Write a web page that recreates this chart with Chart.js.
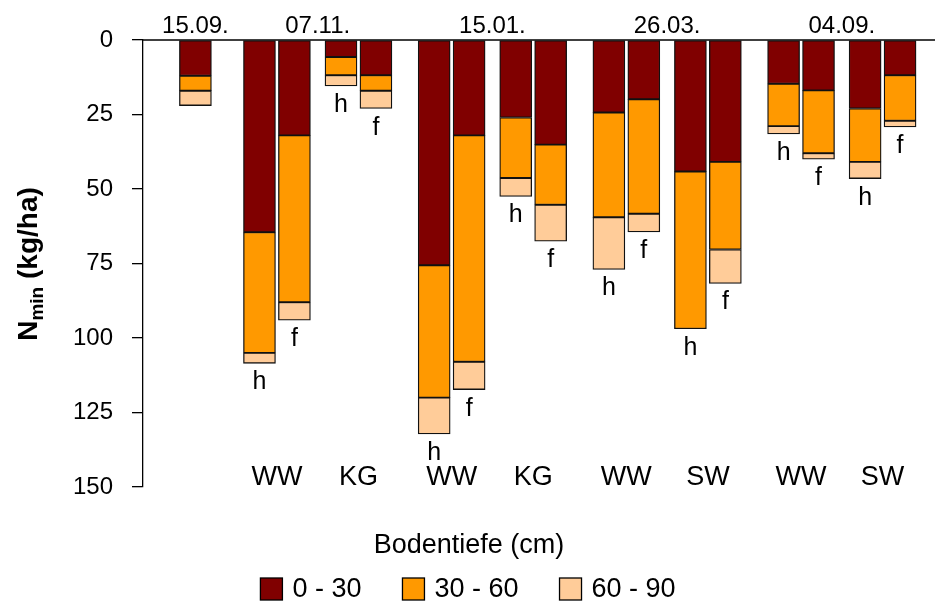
<!DOCTYPE html>
<html>
<head>
<meta charset="utf-8">
<script src="https://cdn.jsdelivr.net/npm/chart.js@4"></script>
<style>
  html, body { margin: 0; padding: 0; background: #fff; }
  canvas { display: block; }
</style>
</head>
<body>
<canvas id="nminChart" width="935" height="601"></canvas>
<script>
const dates = ["15.09.", "07.11.", "15.01.", "26.03.", "04.09."];
const barDate = [0, 1, 1, 1, 1, 2, 2, 2, 2, 3, 3, 3, 3, 4, 4, 4, 4];
const barCrop = ["", "WW", "WW", "KG", "KG", "WW", "WW", "KG", "KG", "WW", "WW", "SW", "SW", "WW", "WW", "SW", "SW"];
const barSite = ["", "h", "f", "h", "f", "h", "f", "h", "f", "h", "f", "h", "f", "h", "f", "h", "f"];
const depthLabels = ["0 - 30", "30 - 60", "60 - 90"];

// N_min per layer (kg/ha)
const n0_30 = [12, 64.5, 32, 5.7, 11.8, 75.6, 32, 26, 35.1, 24.3, 19.9, 44.1, 40.9, 14.7, 16.9, 23, 11.8];
const n30_60 = [5, 40.5, 56, 6.1, 5.2, 44.4, 76, 20.3, 20.2, 35.2, 38.4, 52.8, 29.4, 14.2, 21.1, 17.9, 15.3];
const n60_90 = [5, 3.5, 6, 3.6, 6, 12.2, 9.3, 6.2, 12.2, 17.5, 6.1, 0, 11.4, 2.6, 2, 5.6, 2.1];
const yTicks = [0, 25, 50, 75, 100, 125, 150];

const FONT = "'Liberation Sans', Arial, sans-serif";
const colors = ["#800000", "#ff9900", "#ffcc99"];

// horizontal layout in slot units
const FIRST_SLOT = 9, GAP_PAIR = 6, GAP_CROP = 8, GAP_DATE = 10, GAP_SINGLE = 11, SLOT_SPAN = 136;

function slotPositions() {
  const pos = [];
  barDate.forEach((d, i) => {
    if (i === 0) { pos.push(FIRST_SLOT); return; }
    let gap = GAP_PAIR;
    if (d !== barDate[i - 1]) gap = barCrop[i - 1] ? GAP_DATE : GAP_SINGLE;
    else if (barCrop[i] !== barCrop[i - 1]) gap = GAP_CROP;
    pos.push(pos[i - 1] + gap);
  });
  return pos;
}

const slots = slotPositions();
const layers = [n0_30, n30_60, n60_90];

function mean(arr) {
  return arr.reduce((a, b) => a + b, 0) / arr.length;
}

const labelPlugin = {
  id: "labelPlugin",
  beforeDatasetsDraw(chart) {
    const { ctx, chartArea, scales } = chart;
    const y0 = scales.y.getPixelForValue(0);
    ctx.save();
    ctx.strokeStyle = "#000";
    ctx.lineWidth = 1.3;
    ctx.beginPath();
    ctx.moveTo(chartArea.left, y0);
    ctx.lineTo(chartArea.right, y0);
    ctx.stroke();
    ctx.restore();
  },
  afterDraw(chart) {
    const { ctx, scales } = chart;
    const xs = scales.x, ys = scales.y;
    ctx.save();
    ctx.fillStyle = "#000";
    ctx.textAlign = "center";
    ctx.textBaseline = "alphabetic";

    // h / f under each bar
    ctx.font = `25px ${FONT}`;
    slots.forEach((s, i) => {
      if (!barSite[i]) return;
      const total = n0_30[i] + n30_60[i] + n60_90[i];
      ctx.fillText(barSite[i], xs.getPixelForValue(s), ys.getPixelForValue(total) + 26);
    });

    // dates above groups
    ctx.font = `24px ${FONT}`;
    dates.forEach((d, di) => {
      const xsOf = slots.filter((s, i) => barDate[i] === di).map(s => xs.getPixelForValue(s));
      ctx.fillText(d, mean(xsOf), 33);
    });

    // crops under pairs
    ctx.font = `27px ${FONT}`;
    let i = 0;
    while (i < slots.length) {
      if (!barCrop[i]) { i++; continue; }
      let j = i;
      while (j + 1 < slots.length && barDate[j + 1] === barDate[i] && barCrop[j + 1] === barCrop[i]) j++;
      const cx = (xs.getPixelForValue(slots[i]) + xs.getPixelForValue(slots[j])) / 2;
      ctx.fillText(barCrop[i], cx, 485);
      i = j + 1;
    }

    // x title
    ctx.fillText("Bodentiefe (cm)", 469, 553);

    // legend
    ctx.font = `27px ${FONT}`;
    ctx.textAlign = "left";
    const box = 22, boxGap = 10, itemGap = 41;
    const widths = depthLabels.map(t => ctx.measureText(t).width);
    const total = widths.reduce((a, w) => a + box + boxGap + w, 0) + itemGap * (depthLabels.length - 1);
    let lx = 468 - total / 2;
    depthLabels.forEach((t, k) => {
      ctx.fillStyle = colors[k];
      ctx.fillRect(lx, 578, box, box);
      ctx.strokeStyle = "#000";
      ctx.lineWidth = 1.3;
      ctx.strokeRect(lx, 578, box, box);
      ctx.fillStyle = "#000";
      ctx.fillText(t, lx + box + boxGap, 597);
      lx += box + boxGap + widths[k] + itemGap;
    });

    // y title with subscript
    ctx.translate(37, 264);
    ctx.rotate(-Math.PI / 2);
    const big = `bold 28px ${FONT}`, small = `bold 19px ${FONT}`;
    ctx.font = big;
    const wN = ctx.measureText("N").width;
    const wRest = ctx.measureText(" (kg/ha)").width;
    ctx.font = small;
    const wSub = ctx.measureText("min").width;
    let tx = -(wN + wSub + wRest) / 2;
    ctx.font = big;
    ctx.fillText("N", tx, 0);
    tx += wN;
    ctx.font = small;
    ctx.fillText("min", tx, 6);
    tx += wSub;
    ctx.font = big;
    ctx.fillText(" (kg/ha)", tx, 0);
    ctx.restore();
  }
};

const datasets = layers.map((vals, k) => ({
  label: depthLabels[k],
  data: vals.map((v, i) => ({ x: slots[i], y: v })),
  backgroundColor: colors[k],
  borderColor: "#111",
  borderWidth: 1.3,
  borderSkipped: false,
  barThickness: 32
}));

new Chart(document.getElementById("nminChart"), {
  type: "bar",
  data: { datasets },
  options: {
    responsive: false,
    animation: false,
    devicePixelRatio: 1,
    layout: { padding: { left: 0, right: 0, top: 40, bottom: 114 } },
    plugins: {
      legend: { display: false },
      tooltip: { enabled: false }
    },
    scales: {
      x: {
        type: "linear",
        display: false,
        stacked: true,
        offset: false,
        min: 0,
        max: SLOT_SPAN
      },
      y: {
        stacked: true,
        reverse: true,
        min: 0,
        max: 150,
        afterFit(scale) { scale.width = 143; },
        afterBuildTicks(scale) { scale.ticks = yTicks.map(v => ({ value: v })); },
        grid: {
          drawOnChartArea: false,
          drawTicks: true,
          tickLength: 11,
          color: "#000",
          lineWidth: 1.3
        },
        border: { display: true, color: "#000", width: 1.3 },
        ticks: {
          color: "#000",
          padding: 19,
          font: { family: FONT, size: 24 }
        }
      }
    }
  },
  plugins: [labelPlugin]
});
</script>
</body>
</html>
